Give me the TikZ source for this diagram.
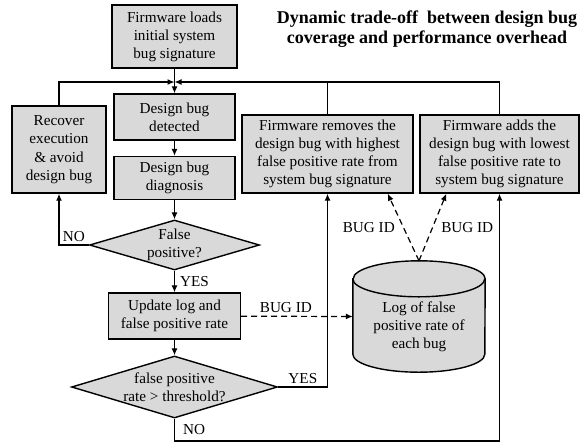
\documentclass[tikz,border=0pt]{standalone}
\usepackage{fontspec}
\setmainfont{Liberation Serif}
\usetikzlibrary{shapes.geometric,arrows.meta,calc}
\definecolor{boxgray}{gray}{0.85}
\begin{document}
\begin{tikzpicture}[x=1pt,y=-1pt,
  font=\fontsize{15.2}{18}\selectfont,
  box/.style={draw, line width=1.4pt, fill=boxgray, align=center, inner sep=0pt},
  dia/.style={draw, diamond, line width=1.4pt, fill=boxgray, inner sep=0pt},
  ln/.style={line width=1.2pt},
  arr/.style={ln, -{Latex[length=7pt,width=6pt]}},
  darr/.style={arr, dash pattern=on 6pt off 4pt},
  lbl/.style={inner sep=0pt}]
\useasboundingbox (0,0) rectangle (581,445);

% title
\node[font=\fontsize{18}{20.5}\selectfont\bfseries, align=center, inner sep=0pt] (title) at (427,29)
  {Dynamic trade-off~ between design bug\\coverage and performance overhead};

% boxes
\node[box, minimum width=125pt, minimum height=63pt] (fw) at (174.5,36.5)
  {Firmware loads\\initial system\\bug signature};
\node[box, minimum width=121pt, minimum height=46pt] (det) at (174.5,117)
  {Design bug\\detected};
\node[box, minimum width=121pt, minimum height=43pt] (diag) at (174.5,178)
  {Design bug\\diagnosis};
\node[box, minimum width=94pt, minimum height=87pt, font=\fontsize{15.2}{18.5}\selectfont] (rec) at (59,149.5)
  {Recover\\execution\\\& avoid\\design bug};
\node[box, minimum width=171pt, minimum height=78pt] (rem) at (327.5,154)
  {Firmware removes the\\design bug with highest\\false positive rate from\\system bug signature};
\node[box, minimum width=159pt, minimum height=78pt] (add) at (499.5,154)
  {Firmware adds the\\design bug with lowest\\false positive rate to\\system bug signature};

\node[dia, minimum width=170pt, minimum height=50pt] (fp) at (174.5,245) {};
\node[lbl, align=center] (fptext) at (fp.center) {False\\positive?};

\node[box, minimum width=132pt, minimum height=46pt] (upd) at (174.5,316)
  {Update log and\\false positive rate};

\node[dia, minimum width=206pt, minimum height=62pt] (thr) at (174.5,387) {};
\node[lbl, align=center] (thrtext) at (thr.center) {false positive\\rate > threshold?};

% cylinder (log)
\node[minimum width=132pt, minimum height=111pt, inner sep=0pt] (log) at (419,316.5) {};
\draw[line width=1.4pt, fill=boxgray]
  ([yshift=-18pt]log.north west) -- ([yshift=18pt]log.south west)
  arc[start angle=180, end angle=360, x radius=66pt, y radius=18pt]
  -- ([yshift=-18pt]log.north east)
  arc[start angle=0, end angle=180, x radius=66pt, y radius=18pt] -- cycle;
\draw[line width=1.4pt] ([yshift=-18pt]log.north west)
  arc[start angle=180, end angle=360, x radius=66pt, y radius=18pt];
\node[lbl, align=center] (logtext) at ([yshift=-10pt]log.center)
  {Log of false\\positive rate of\\each bug};

% connectors
\coordinate (j) at (174.5,82);
\coordinate (nb) at (174.5,441);
\draw[arr] (fw) -- (det);
\draw[arr] (rec.north) |- (j);
\draw[arr] (add.north) |- (j);
\draw[ln] (rem.north) -- (rem.north |- j);
\draw[arr] (det) -- (diag);
\draw[arr] (diag) -- (fp);
\draw[arr] (fp) -- node[right=5pt, lbl]{YES} (upd);
\draw[arr] (fp.west) -- node[above=3pt, lbl]{NO} (fp.west -| rec.south) -- (rec.south);
\draw[arr] (upd) -- (thr);
\draw[arr] (thr.east) -- node[above=3pt, lbl]{YES} (thr.east -| rem.south) -- (rem.south);
\draw[arr] (thr.south) -- node[right=8pt, lbl]{NO} (thr.south |- nb) -- (nb -| add.south) -- (add.south);

\draw[darr] (upd) -- node[pos=0.4, above=3pt, lbl]{BUG ID} (log.west);
\draw[darr] (log.north) -- node[left=8pt, lbl]{BUG ID} ([xshift=-26pt]rem.south east);
\draw[darr] (log.north) -- node[right=8pt, lbl]{BUG ID} ([xshift=27pt]add.south west);
\end{tikzpicture}
\end{document}
